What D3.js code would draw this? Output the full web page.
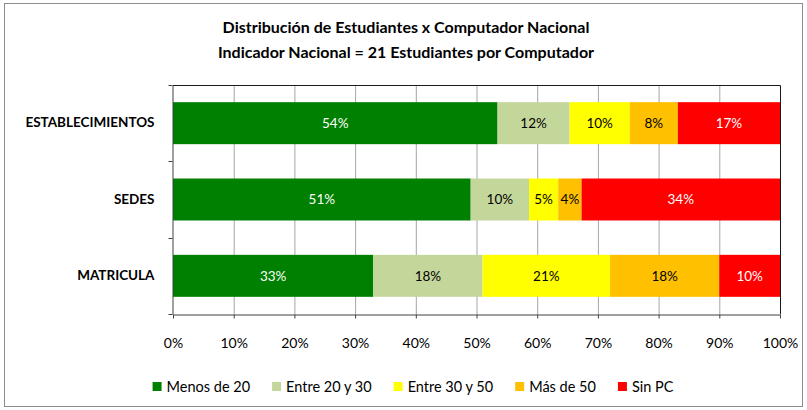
<!DOCTYPE html>
<html>
<head>
<meta charset="utf-8">
<script src="https://cdn.jsdelivr.net/npm/d3@7"></script>
<style>
  body { margin: 0; background: #fff; }
  svg text { font-family: Lato, "Open Sans", sans-serif; }
</style>
</head>
<body>
<svg id="svg" width="807" height="410"></svg>
<script>
// data
var categories = ["ESTABLECIMIENTOS", "SEDES", "MATRICULA"];
var seriesNames = ["Menos de 20", "Entre 20 y 30", "Entre 30 y 50", "Más de 50", "Sin PC"];
var menos20 = [54, 51, 33];
var entre20y30 = [12, 10, 18];
var entre30y50 = [10, 5, 21];
var mas50 = [8, 4, 18];
var sinPC = [17, 34, 10];
var colors = ["#008000", "#c4d79b", "#ffff00", "#ffc000", "#ff0000"];
var labelColors = ["#fff", "#000", "#000", "#000", "#fff"];
var xTicks = [0, 0.1, 0.2, 0.3, 0.4, 0.5, 0.6, 0.7, 0.8, 0.9, 1];
var titleLines = ["Distribución de Estudiantes x Computador Nacional",
                  "Indicador Nacional = 21 Estudiantes por Computador"];

var svg = d3.select("#svg");

//build rows for the stack
var values = [menos20, entre20y30, entre30y50, mas50, sinPC];
var rows = categories.map(function(c, i) {
    var r = { cat: c };
    seriesNames.forEach(function(s, j) { r[s] = values[j][i]; });
    return r;
});

// 100% stacked bars
var stacked = d3.stack().keys(seriesNames).offset(d3.stackOffsetExpand)(rows);

var x = d3.scaleLinear().domain([0, 1]).range([173, 780]);
var y = d3.scaleBand().domain(categories).range([85, 314])
    .paddingInner(0.45).paddingOuter(0.225);

// outer border
svg.append("rect")
    .attr("x", 4.5).attr("y", 3.5).attr("width", 798).attr("height", 403)
    .attr("fill", "none").attr("stroke", "#8c8c8c");

// title
svg.append("g").selectAll("text").data(titleLines).enter().append("text")
    .attr("x", 406)
    .attr("y", function(d, i) { return 33 + i * 25; })
    .attr("text-anchor", "middle")
    .attr("font-size", 16)
    .attr("font-weight", "bold")
    .attr("fill", "#000")
    .text(function(d) { return d; });

// gridlines
svg.append("g").selectAll("line").data(xTicks.slice(1, -1)).enter().append("line")
    .attr("x1", function(d) { return x(d) + 0.5; })
    .attr("x2", function(d) { return x(d) + 0.5; })
    .attr("y1", 85).attr("y2", 314)
    .attr("stroke", "#a6a6a6");

// bars
var layers = svg.append("g").selectAll("g").data(stacked).enter().append("g")
    .attr("fill", function(d, i) { return colors[i]; });
layers.selectAll("rect").data(function(d) { return d; }).enter().append("rect")
    .attr("x", function(d) { return x(d[0]); })
    .attr("width", function(d) { return x(d[1]) - x(d[0]); })
    .attr("y", function(d) { return y(d.data.cat); })
    .attr("height", y.bandwidth());

// data labels
stacked.forEach(function(layer, i) {
    svg.append("g").selectAll("text").data(layer).enter().append("text")
        .attr("x", function(d) { return (x(d[0]) + x(d[1])) / 2; })
        .attr("y", function(d) { return y(d.data.cat) + y.bandwidth() / 2; })
        .attr("dy", "0.36em")
        .attr("text-anchor", "middle")
        .attr("font-size", 13.5)
        .attr("fill", labelColors[i])
        .text(function(d) { return d.data[layer.key] + "%"; });
});

// plot border top/right
svg.append("path")
    .attr("d", "M173,85.5H780.5V314")
    .attr("fill", "none").attr("stroke", "#1a1a1a");

// x axis
var xAxis = svg.append("g").attr("transform", "translate(0,314.5)")
    .call(d3.axisBottom(x).tickValues(xTicks).tickFormat(d3.format(".0%"))
        .tickSize(4).tickSizeOuter(0).tickPadding(20));
xAxis.select(".domain").attr("stroke", "#404040");
xAxis.selectAll(".tick line").attr("stroke", "#404040");
xAxis.selectAll("text").attr("font-size", 14).attr("fill", "#000")
    .style("font-family", "Lato, sans-serif");

// y axis
var yAxis = svg.append("g").attr("transform", "translate(172.5,0)")
    .call(d3.axisLeft(y).tickSize(0).tickPadding(18));
yAxis.select(".domain").attr("stroke", "#404040");
yAxis.selectAll("text").attr("font-size", 13.5).attr("font-weight", "bold")
    .attr("fill", "#000").style("font-family", "Lato, sans-serif");
// ticks between categories
var bounds = [85, 314].concat(categories.slice(1).map(function(c) { return y(c) - y.step() * y.paddingInner() / 2; }));
yAxis.selectAll(".bound").data(bounds).enter().append("line")
    .attr("class", "bound")
    .attr("x1", -4).attr("x2", 0)
    .attr("y1", function(d) { return Math.round(d) + 0.5; })
    .attr("y2", function(d) { return Math.round(d) + 0.5; })
    .attr("stroke", "#404040");

// legend
var legend = svg.append("g").attr("transform", "translate(0,387)");
var items = legend.selectAll("g").data(seriesNames).enter().append("g");
items.append("rect")
    .attr("y", -5).attr("width", 9).attr("height", 9)
    .attr("fill", function(d, i) { return colors[i]; });
items.append("text")
    .attr("x", 14)
    .attr("dy", "0.36em")
    .attr("font-size", 14.5)
    .attr("fill", "#000")
    .text(function(d) { return d; });
var pos = 0, offsets = [];
items.each(function() {
    offsets.push(pos);
    pos += 14 + this.querySelector("text").getComputedTextLength() + 22;
});
var start = 413 - (pos - 22) / 2;
items.attr("transform", function(d, i) { return "translate(" + (start + offsets[i]) + ",0)"; });
</script>
</body>
</html>
